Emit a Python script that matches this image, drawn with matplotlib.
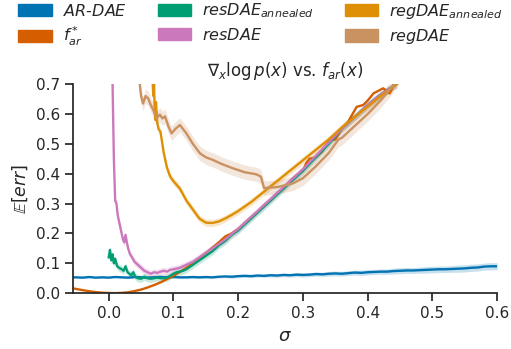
import numpy as np
import matplotlib
matplotlib.use('Agg')
import matplotlib.pyplot as plt
from matplotlib.patches import Patch

# AR-DAE
sigma_ar = [-0.055, -0.05, -0.04, -0.03, -0.02, -0.01, 0.0, 0.01, 0.02, 0.03, 0.04, 0.05, 0.06, 0.07,
            0.08, 0.09, 0.10, 0.11, 0.12, 0.13, 0.14, 0.15, 0.16, 0.17, 0.18, 0.19, 0.20, 0.21,
            0.22, 0.23, 0.24, 0.25, 0.26, 0.27, 0.28, 0.29, 0.30, 0.31, 0.32, 0.33, 0.34, 0.35,
            0.36, 0.37, 0.38, 0.39, 0.40, 0.41, 0.42, 0.43, 0.44, 0.45, 0.46, 0.47, 0.48, 0.49,
            0.50, 0.51, 0.52, 0.53, 0.54, 0.55, 0.56, 0.57, 0.58, 0.59, 0.60]
err_ar = [0.053, 0.053, 0.052, 0.054, 0.052, 0.053, 0.052, 0.054, 0.053, 0.052, 0.054, 0.053, 0.052, 0.053,
          0.054, 0.053, 0.054, 0.053, 0.053, 0.054, 0.053, 0.054, 0.053, 0.055, 0.056, 0.055, 0.057, 0.058,
          0.057, 0.059, 0.058, 0.060, 0.059, 0.061, 0.060, 0.062, 0.061, 0.062, 0.064, 0.063, 0.065, 0.066,
          0.065, 0.067, 0.069, 0.068, 0.070, 0.071, 0.072, 0.072, 0.074, 0.075, 0.076, 0.076, 0.077, 0.078,
          0.079, 0.080, 0.080, 0.081, 0.082, 0.083, 0.085, 0.086, 0.089, 0.090, 0.090]
band_ar = [0.002, 0.002, 0.002, 0.002, 0.002, 0.002, 0.002, 0.002, 0.002, 0.002, 0.003, 0.003, 0.003, 0.003,
           0.003, 0.003, 0.003, 0.003, 0.003, 0.004, 0.004, 0.004, 0.004, 0.004, 0.004, 0.005, 0.005, 0.005,
           0.005, 0.005, 0.005, 0.006, 0.006, 0.006, 0.006, 0.007, 0.007, 0.007, 0.007, 0.007, 0.008, 0.008,
           0.008, 0.008, 0.008, 0.009, 0.009, 0.009, 0.009, 0.009, 0.010, 0.010, 0.010, 0.010, 0.010, 0.011,
           0.011, 0.011, 0.011, 0.011, 0.012, 0.012, 0.012, 0.012, 0.012, 0.012, 0.012]

# f*_ar
sigma_f = [-0.055, -0.04, -0.03, -0.02, -0.01, 0.0, 0.01, 0.02, 0.03, 0.04, 0.05, 0.06, 0.07, 0.08, 0.09,
           0.10, 0.11, 0.12, 0.13, 0.14, 0.15, 0.16, 0.17, 0.18, 0.19, 0.20, 0.21, 0.22, 0.23, 0.24,
           0.25, 0.26, 0.27, 0.28, 0.29, 0.30, 0.305, 0.31, 0.32, 0.33, 0.34, 0.35, 0.36, 0.37, 0.383,
           0.393, 0.40, 0.409, 0.424, 0.434, 0.445]
err_f = [0.016, 0.010, 0.0065, 0.0035, 0.0015, 0.0005, 0.0002, 0.001, 0.003, 0.007, 0.012, 0.019, 0.027, 0.036, 0.047,
         0.058, 0.071, 0.085, 0.100, 0.117, 0.134, 0.152, 0.170, 0.190, 0.200, 0.215, 0.235, 0.255, 0.272, 0.295,
         0.310, 0.335, 0.350, 0.375, 0.395, 0.410, 0.435, 0.450, 0.455, 0.475, 0.510, 0.515, 0.550, 0.575, 0.624,
         0.630, 0.645, 0.669, 0.686, 0.669, 0.72]

# resDAE annealed
sigma_ra = [0.0, 0.002, 0.004, 0.006, 0.008, 0.010, 0.013, 0.016, 0.020, 0.023, 0.026, 0.029, 0.032, 0.035,
            0.038, 0.041, 0.045, 0.050, 0.055, 0.060, 0.065, 0.070, 0.075, 0.080, 0.085, 0.090, 0.095, 0.100,
            0.105, 0.110, 0.115, 0.120, 0.130, 0.140, 0.150, 0.160, 0.170, 0.180, 0.190, 0.200, 0.220, 0.240,
            0.260, 0.280, 0.300, 0.320, 0.340, 0.360, 0.380, 0.400, 0.420, 0.445]
err_ra = [0.120, 0.145, 0.110, 0.130, 0.100, 0.115, 0.090, 0.085, 0.080, 0.075, 0.090, 0.070, 0.065, 0.060,
          0.070, 0.055, 0.050, 0.048, 0.055, 0.050, 0.048, 0.050, 0.052, 0.050, 0.050, 0.052, 0.058, 0.065,
          0.070, 0.072, 0.075, 0.080, 0.095, 0.110, 0.125, 0.140, 0.160, 0.175, 0.195, 0.210, 0.250, 0.290,
          0.330, 0.370, 0.410, 0.455, 0.500, 0.550, 0.590, 0.630, 0.665, 0.70]

# resDAE
sigma_r = [0.004, 0.006, 0.008, 0.010, 0.012, 0.014, 0.016, 0.018, 0.020, 0.022, 0.024, 0.026, 0.028, 0.030,
           0.033, 0.036, 0.040, 0.045, 0.050, 0.055, 0.060, 0.065, 0.070, 0.075, 0.080, 0.085, 0.090, 0.095,
           0.100, 0.110, 0.120, 0.130, 0.140, 0.150, 0.160, 0.170, 0.180, 0.190, 0.200, 0.220, 0.240, 0.260,
           0.280, 0.300, 0.320, 0.340, 0.360, 0.380, 0.400, 0.420, 0.445]
err_r = [0.80, 0.70, 0.45, 0.31, 0.30, 0.26, 0.24, 0.22, 0.20, 0.18, 0.17, 0.195, 0.17, 0.15,
         0.13, 0.12, 0.105, 0.095, 0.085, 0.075, 0.070, 0.065, 0.070, 0.068, 0.072, 0.075, 0.072, 0.078,
         0.080, 0.085, 0.095, 0.105, 0.120, 0.135, 0.150, 0.165, 0.180, 0.198, 0.215, 0.255, 0.295, 0.335,
         0.375, 0.415, 0.460, 0.505, 0.550, 0.590, 0.630, 0.665, 0.70]

# regDAE annealed
sigma_ga = [0.066, 0.068, 0.069, 0.070, 0.071, 0.072, 0.073, 0.075, 0.077, 0.080, 0.085, 0.090, 0.095, 0.100,
            0.110, 0.120, 0.130, 0.140, 0.150, 0.160, 0.170, 0.180, 0.190, 0.200, 0.220, 0.240, 0.260, 0.280,
            0.300, 0.320, 0.340, 0.360, 0.380, 0.400, 0.420, 0.445]
err_ga = [0.80, 0.70, 0.66, 0.70, 0.62, 0.58, 0.64, 0.57, 0.55, 0.54, 0.47, 0.42, 0.39, 0.375,
          0.350, 0.310, 0.280, 0.250, 0.236, 0.235, 0.240, 0.250, 0.262, 0.275, 0.305, 0.340, 0.375, 0.410,
          0.445, 0.480, 0.515, 0.555, 0.590, 0.625, 0.660, 0.70]

# regDAE
sigma_g = [0.045, 0.048, 0.050, 0.053, 0.057, 0.061, 0.065, 0.069, 0.074, 0.079, 0.083, 0.087, 0.092, 0.097,
           0.103, 0.110, 0.120, 0.130, 0.141, 0.150, 0.161, 0.175, 0.192, 0.210, 0.228, 0.235, 0.240, 0.260,
           0.285, 0.300, 0.320, 0.340, 0.350, 0.355, 0.360, 0.380, 0.400, 0.420, 0.440]
err_g = [0.75, 0.70, 0.66, 0.635, 0.66, 0.652, 0.63, 0.613, 0.585, 0.598, 0.585, 0.592, 0.560, 0.535,
         0.550, 0.563, 0.535, 0.500, 0.468, 0.455, 0.446, 0.432, 0.418, 0.405, 0.398, 0.390, 0.352, 0.355,
         0.368, 0.385, 0.425, 0.470, 0.500, 0.515, 0.520, 0.560, 0.600, 0.645, 0.697]

labels = [r'$AR$-$DAE$', r'$f^*_{ar}$', r'$resDAE_{annealed}$', r'$resDAE$',
          r'$regDAE_{annealed}$', r'$regDAE$']
colors = ['#0173b2', '#d55e00', '#029e73', '#cc78bc', '#de8f05', '#ca9161']

plt.rcParams['font.family'] = 'DejaVu Sans'
plt.rcParams['mathtext.fontset'] = 'dejavusans'
plt.rcParams['axes.linewidth'] = 1.25
plt.rcParams['axes.edgecolor'] = '.15'
plt.rcParams['text.color'] = '.15'
plt.rcParams['axes.labelcolor'] = '.15'
plt.rcParams['xtick.color'] = '.15'
plt.rcParams['ytick.color'] = '.15'
plt.rcParams['xtick.major.width'] = 1.25
plt.rcParams['ytick.major.width'] = 1.25
plt.rcParams['xtick.major.size'] = 6
plt.rcParams['ytick.major.size'] = 6

fig = plt.figure(figsize=(5.11, 3.49), dpi=100)
ax = fig.add_axes([0.143, 0.160, 0.830, 0.599])

series = [(sigma_ar, err_ar, band_ar), (sigma_f, err_f, 0.0), (sigma_ra, err_ra, 0.012),
          (sigma_r, err_r, 0.012), (sigma_ga, err_ga, 0.012), (sigma_g, err_g, 0.024)]
for (s, e, b), c in zip(series, colors):
    s = np.array(s)
    e = np.array(e)
    b = np.array(b)
    ax.plot(s, e, color=c, lw=1.7)
    if np.any(b > 0):
        ax.fill_between(s, e - b, e + b, color=c, alpha=0.22, lw=0)

ax.set_xlim(-0.055, 0.6)
ax.set_ylim(0, 0.7)
ax.set_xticks([0.0, 0.1, 0.2, 0.3, 0.4, 0.5, 0.6])
ax.set_yticks([0.0, 0.1, 0.2, 0.3, 0.4, 0.5, 0.6, 0.7])
ax.tick_params(labelsize=11)
ax.spines['top'].set_visible(False)
ax.spines['right'].set_visible(False)
ax.set_xlabel(r'$\sigma$', fontsize=13)
ax.set_ylabel(r'$\mathbb{E}[err]$', fontsize=12.5)
ax.set_title(r'$\nabla_x \log p(x)$ vs. $f_{ar}(x)$', fontsize=12)

handles = [Patch(color=c) for c in colors]
fig.legend(handles, labels, ncol=3, loc='upper left', bbox_to_anchor=(0.033, 1.0),
           frameon=False, fontsize=11.5, handlelength=2.1, handleheight=0.8,
           handletextpad=0.7, columnspacing=1.9, borderpad=0.1, borderaxespad=0,
           labelspacing=0.4)

fig.savefig('out.png', dpi=100)
